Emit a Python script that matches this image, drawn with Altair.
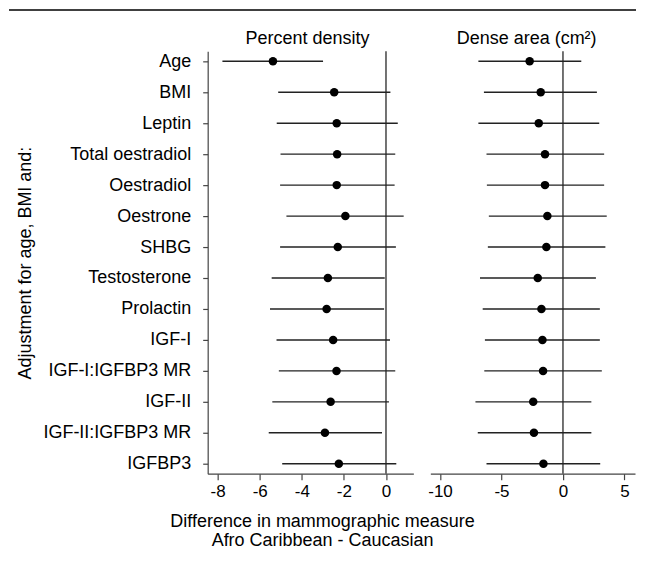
import altair as alt
import pandas as pd

labels = ["Age", "BMI", "Leptin", "Total oestradiol", "Oestradiol", "Oestrone", "SHBG",
          "Testosterone", "Prolactin", "IGF-I", "IGF-I:IGFBP3 MR", "IGF-II",
          "IGF-II:IGFBP3 MR", "IGFBP3"]

# Percent density
pd_est = [-5.37, -2.46, -2.34, -2.32, -2.34, -1.93, -2.29, -2.76, -2.82, -2.51, -2.35, -2.63, -2.90, -2.24]
pd_lo = [-7.77, -5.12, -5.19, -5.01, -5.03, -4.73, -5.03, -5.43, -5.51, -5.20, -5.09, -5.40, -5.57, -4.93]
pd_hi = [-2.99, 0.21, 0.56, 0.44, 0.41, 0.84, 0.47, -0.06, -0.09, 0.19, 0.44, 0.14, -0.19, 0.49]

# Dense area (cm2)
da_est = [-2.71, -1.81, -1.97, -1.46, -1.46, -1.27, -1.35, -2.05, -1.75, -1.67, -1.62, -2.42, -2.36, -1.59]
da_lo = [-6.88, -6.43, -6.88, -6.22, -6.19, -6.03, -6.11, -6.75, -6.53, -6.35, -6.40, -7.12, -6.93, -6.22]
da_hi = [1.49, 2.76, 2.95, 3.35, 3.35, 3.56, 3.45, 2.68, 3.00, 3.00, 3.16, 2.31, 2.31, 3.03]

pd_ticks = [-8, -6, -4, -2, 0]
da_ticks = [-10, -5, 0, 5]

FONT = "Liberation Sans"
AX = "#444444"
H = 423
WL = 206
WR = 205
GAP = 17
HYPHEN_LABEL = "datum.value < 0 ? '-' + abs(datum.value) : '' + datum.value"


def panel(est, lo, hi, title, domain, ticks, width, show_y, title_dx):
    df = pd.DataFrame({"label": labels, "est": est, "lo": lo, "hi": hi})
    xscale = alt.Scale(domain=domain, nice=False, zero=False)
    xaxis = alt.Axis(values=ticks, title=None, grid=False, domainColor=AX, tickColor=AX,
                     tickSize=6, labelFontSize=17, labelPadding=4, labelColor="black",
                     labelFont=FONT, domainWidth=1.2, tickWidth=1.2, labelExpr=HYPHEN_LABEL)
    yscale = alt.Scale(type="point", padding=0.32)
    if show_y:
        yaxis = alt.Axis(title="Adjustment for age, BMI and:", titleFontSize=18,
                         titleFontWeight="normal", titleFont=FONT, titleColor="black",
                         titlePadding=8, labelFontSize=18, labelFont=FONT, labelColor="black",
                         labelPadding=12, tickSize=5, tickColor=AX, domainColor=AX,
                         domainWidth=1.2, tickWidth=1.2, grid=False)
        y = alt.Y("label:N", sort=labels, scale=yscale, axis=yaxis)
    else:
        y = alt.Y("label:N", sort=labels, scale=yscale, axis=None)

    base = alt.Chart(df)
    bars = base.mark_rule(color="#222222", strokeWidth=1.4).encode(
        x=alt.X("lo:Q", scale=xscale, axis=xaxis), x2="hi:Q", y=y)
    pts = base.mark_circle(size=72, color="black", opacity=1).encode(
        x=alt.X("est:Q", scale=xscale), y=y)
    zero = alt.Chart(pd.DataFrame({"z": [0]})).mark_rule(color=AX, strokeWidth=1.5).encode(
        x=alt.X("z:Q", scale=xscale))
    return alt.layer(zero, bars, pts).properties(
        width=width, height=H,
        title=alt.TitleParams(title, fontSize=18, fontWeight="normal", font=FONT, color="black",
                              anchor="middle", frame="group", offset=3, dx=title_dx),
    )


top_line = alt.Chart(pd.DataFrame({"a": [0]})).mark_rule(color="black", strokeWidth=1.5).encode(
    x=alt.value(-199), x2=alt.value(WL + GAP + WR + 1), y=alt.value(0.5)).properties(width=WL, height=1)

left = panel(pd_est, pd_lo, pd_hi, "Percent density", [-8.47, 1.30], pd_ticks, WL, True, -3)
right = panel(da_est, da_lo, da_hi, "Dense area (cm\u00b2)", [-10.79, 5.86], da_ticks, WR, False, -6)

row = alt.hconcat(left, right, spacing=GAP, bounds="flush")

chart = alt.vconcat(top_line, row, spacing=41, bounds="flush").properties(
    padding={"left": 0, "top": 0, "right": 0, "bottom": 0},
    title=alt.TitleParams(["Difference in mammographic measure", "Afro Caribbean - Caucasian"],
                          orient="bottom", anchor="middle", fontSize=18, fontWeight="normal",
                          font=FONT, color="black", offset=13, lineHeight=19),
).configure(font=FONT, background="white",
            view=alt.ViewConfig(stroke="transparent", strokeWidth=0))

chart.save("out.html", embed_options={"renderer": "svg", "actions": False})
